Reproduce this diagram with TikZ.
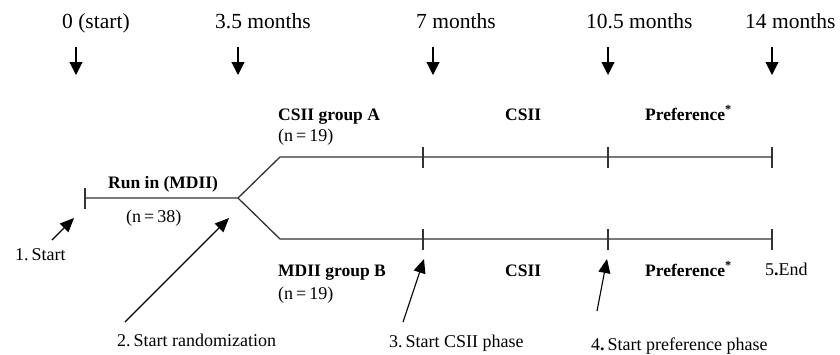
\documentclass[tikz,border=0pt]{standalone}
\usepackage{fontspec}
\setmainfont{Liberation Serif}
\usetikzlibrary{arrows.meta,positioning}

\tikzset{
  month/.style={font=\fontsize{21.5}{25}\selectfont, anchor=base west, inner sep=0pt},
  note/.style={font=\fontsize{18}{21}\selectfont, anchor=base west, inner sep=0pt},
  arm/.style={font=\fontsize{17.5}{21}\selectfont\bfseries, anchor=base west, inner sep=0pt},
  down/.style={-{Triangle[width=13pt,length=13pt]}, line width=1.1pt},
  pointer/.style={-{Triangle[width=12pt,length=14pt]}, line width=1.1pt},
  phase/.style={line width=1.3pt, draw=black!80},
}

\begin{document}
\begin{tikzpicture}[x=1pt,y=-1pt]
    \useasboundingbox (0,0) rectangle (840,354);
    % time points
    \node[month] (m0) at (62,28) {0 (start)};
    \node[month] (m1) at (215,28) {3.5 months};
    \node[month] (m2) at (416,28) {7 months};
    \node[month] (m3) at (586,28) {10.5 months};
    \node[month] (m4) at (745,28) {14 months};
    \foreach \i/\x in {0/76,1/238,2/433,3/608,4/772} {
        \coordinate (top\i) at (\x,47);
        \coordinate (tip\i) at (\x,75);
        \draw[down] (top\i) -- (tip\i);
    }
    % study arms
    \coordinate (S) at (85,198);
    \coordinate (R) at (238,198);
    \coordinate (A0) at (280,157);
    \coordinate (A1) at (423,157);
    \coordinate (A2) at (608,157);
    \coordinate (A3) at (772,157);
    \coordinate (B0) at (280,239);
    \coordinate (B1) at (423,239);
    \coordinate (B2) at (608,239);
    \coordinate (B3) at (772,239);
    \draw[phase] (S) -- (R) -- (A0) -- (A3);
    \draw[phase] (R) -- (B0) -- (B3);
    \foreach \p in {S,A1,A2,A3,B1,B2,B3}
        \draw[phase] ([yshift=-10.5pt]\p) -- ([yshift=10.5pt]\p);
    % phase labels
    \node[arm] (runin) at (108,188) {Run in (MDII)};
    \node[note] (nrun) at (126,222) {(n\,=\,38)};
    \node[arm] (grpA) at (278,120) {CSII group A};
    \node[note] (nA) at (278,141) {(n\,=\,19)};
    \node[arm] (csiiA) at (505,120) {CSII};
    \node[arm] (prefA) at (645,120) {Preference\textsuperscript{*}};
    \node[arm] (grpB) at (278,276) {MDII group B};
    \node[note] (nB) at (278,299) {(n\,=\,19)};
    \node[arm] (csiiB) at (505,276) {CSII};
    \node[arm] (prefB) at (645,276) {Preference\textsuperscript{*}};
    % events
    \node[note] (ev1) at (15,260) {1.\,Start};
    \node[note] (ev2) at (117,346) {2.\,Start randomization};
    \node[note] (ev3) at (389,347) {3.\,Start CSII phase};
    \node[note] (ev4) at (591,350) {4\textbf{.}\,Start preference phase};
    \node[note] (ev5) at (765,275) {5\textbf{.}End};
    \coordinate (p1) at (52,240);
    \coordinate (q1) at (74,218);
    \coordinate (p2) at (125,322);
    \coordinate (q2) at (229,218);
    \coordinate (p3) at (403,322);
    \coordinate (q3) at (424,259);
    \coordinate (p4) at (597,311);
    \coordinate (q4) at (607,259);
    \foreach \i in {1,2,3,4}
        \draw[pointer] (p\i) -- (q\i);
\end{tikzpicture}
\end{document}
